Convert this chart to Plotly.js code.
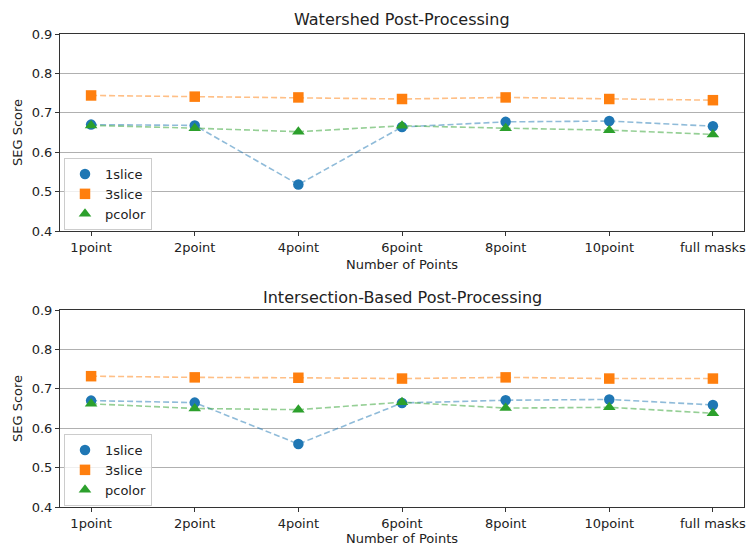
<!DOCTYPE html>
<html><head><meta charset="utf-8">
<script src="https://cdn.plot.ly/plotly-3.0.1.min.js"></script>
<style>body{margin:0;padding:0;background:#fff}#chart{width:746px;height:546px}</style>
</head><body><div id="chart"></div>
<script>
const categories = ["1point","2point","4point","6point","8point","10point","full masks"];
const wsSlice1 = [0.670, 0.668, 0.518, 0.664, 0.677, 0.679, 0.666];
const wsSlice3 = [0.744, 0.741, 0.739, 0.735, 0.739, 0.735, 0.732];
const wsPcolor = [0.668, 0.661, 0.652, 0.667, 0.661, 0.656, 0.645];
const ibSlice1 = [0.670, 0.665, 0.560, 0.664, 0.671, 0.673, 0.659];
const ibSlice3 = [0.732, 0.729, 0.728, 0.726, 0.729, 0.726, 0.726];
const ibPcolor = [0.662, 0.650, 0.647, 0.666, 0.651, 0.653, 0.638];
const seriesNames = ["1slice","3slice","pcolor"];
const yTicks = [0.4,0.5,0.6,0.7,0.8,0.9];

const colors = ["#1f77b4","#ff7f0e","#2ca02c"];
const symbols = ["circle","square","triangle-up"];
const font = "DejaVu Sans, sans-serif";

function makeTraces(sets, xa, ya, legendName){
  const tr = [];
  sets.forEach((vals,i)=>{
    tr.push({x:categories, y:vals, xaxis:xa, yaxis:ya, mode:"lines", showlegend:false,
      line:{color:colors[i], dash:"6px,3px", width:1.6}, opacity:0.5, hoverinfo:"skip"});
  });
  sets.forEach((vals,i)=>{
    tr.push({x:categories, y:vals, xaxis:xa, yaxis:ya, mode:"markers", name:seriesNames[i],
      legend:legendName,
      marker:{color:colors[i], symbol:symbols[i], size: i===2?11:10.5, line:{width:0}}});
  });
  return tr;
}

const data = [].concat(
  makeTraces([wsSlice1, wsSlice3, wsPcolor], "x", "y", "legend"),
  makeTraces([ibSlice1, ibSlice3, ibPcolor], "x2", "y2", "legend2")
);

const xCommon = {type:"category", range:[-0.3,6.3], showgrid:false, showline:true, mirror:true,
  linecolor:"#333", linewidth:1, ticks:"outside", ticklen:4, tickcolor:"#333",
  tickfont:{family:font,size:13,color:"#222"}, zeroline:false};
const yCommon = {range:[0.4,0.9], tickvals:yTicks, ticktext:yTicks.map(v=>v.toFixed(1)),
  showgrid:true, gridcolor:"#b0b0b0", gridwidth:1, showline:true, mirror:true,
  linecolor:"#333", linewidth:1, ticks:"outside", ticklen:4, tickcolor:"#333",
  tickfont:{family:font,size:13,color:"#222"}, zeroline:false};

const legendCommon = {bgcolor:"rgba(255,255,255,0.8)", bordercolor:"#cccccc", borderwidth:1,
  font:{family:font,size:13,color:"#222"}, xanchor:"left", yanchor:"top", tracegroupgap:0, itemwidth:30};

const layout = {
  width:746, height:546, margin:{l:0,r:0,t:0,b:0},
  paper_bgcolor:"#fff", plot_bgcolor:"#fff",
  xaxis:Object.assign({}, xCommon, {domain:[60/746, 744/746], anchor:"y",
    title:{text:"Number of Points", font:{family:font,size:13,color:"#222"}, standoff:6}}),
  yaxis:Object.assign({}, yCommon, {domain:[1-231/546, 1-34/546], anchor:"x",
    title:{text:"SEG Score", font:{family:font,size:13,color:"#222"}, standoff:6}}),
  xaxis2:Object.assign({}, xCommon, {domain:[60/746, 744/746], anchor:"y2",
    title:{text:"Number of Points", font:{family:font,size:13,color:"#222"}, standoff:6}}),
  yaxis2:Object.assign({}, yCommon, {domain:[1-507/546, 1-310/546], anchor:"x2",
    title:{text:"SEG Score", font:{family:font,size:13,color:"#222"}, standoff:6}}),
  legend:Object.assign({}, legendCommon, {x:64/746, y:1-158/546}),
  legend2:Object.assign({}, legendCommon, {x:64/746, y:1-434/546}),
  annotations:[
    {text:"Watershed Post-Processing", xref:"paper", yref:"paper", x:402/746, y:1-20/546,
      showarrow:false, font:{family:font,size:16,color:"#222"}, xanchor:"center", yanchor:"middle"},
    {text:"Intersection-Based Post-Processing", xref:"paper", yref:"paper", x:402/746, y:1-297/546,
      showarrow:false, font:{family:font,size:16,color:"#222"}, xanchor:"center", yanchor:"middle"}
  ],
  showlegend:true
};

Plotly.newPlot("chart", data, layout, {displayModeBar:false, staticPlot:true});
</script></body></html>
